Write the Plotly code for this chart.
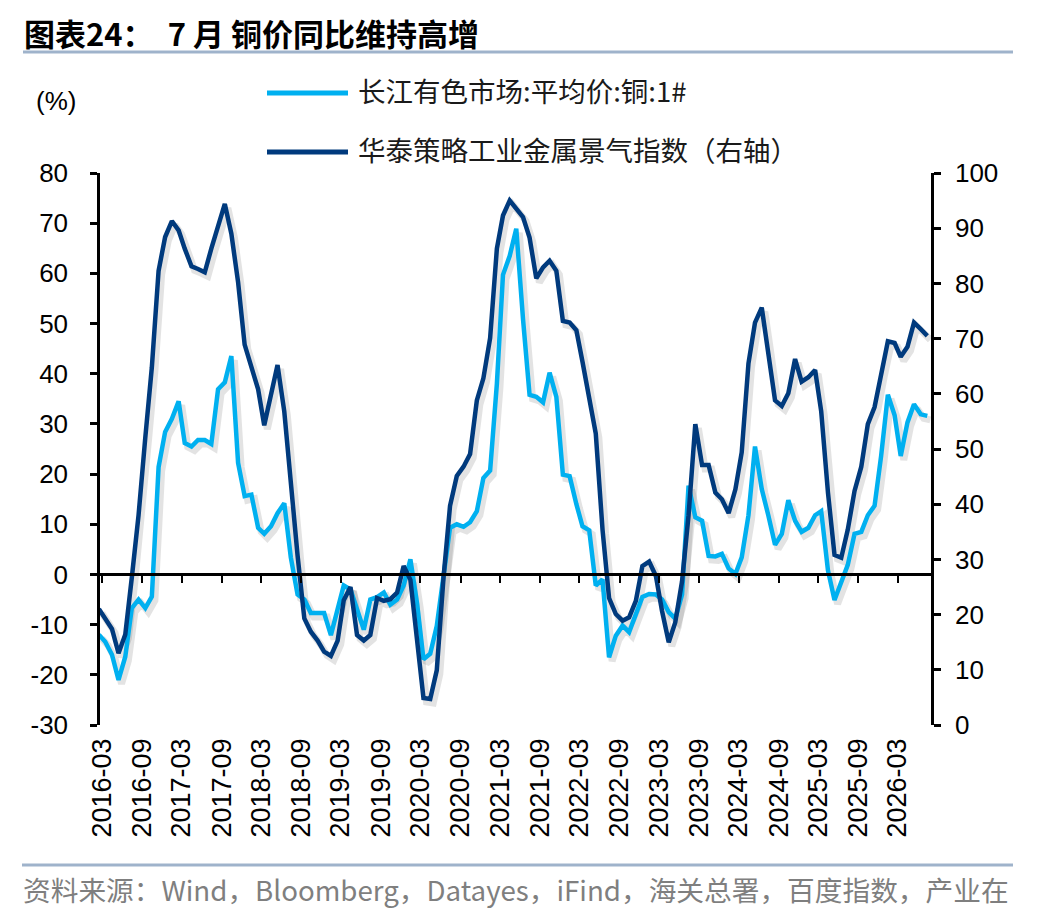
import pandas as pd
import plotly.graph_objects as go

# monthly points, plotted mid-month (2016-02 .. 2026-07)
months = pd.date_range("2016-02-01", "2026-07-01", freq="MS") + pd.Timedelta(days=14)

# 长江有色市场:平均价:铜:1#  (YoY, %, left axis)
copper_yoy = [
    -12.0, -13.4, -16.0, -21.0, -16.4, -6.7, -5.0, -6.7, -4.4, 21.4,
    28.4, 31.0, 34.5, 26.2, 25.5, 26.8, 26.8, 26.0, 36.9, 38.3,
    43.5, 22.2, 15.6, 15.9, 9.3, 8.1, 9.6, 12.2, 14.2, 3.4,
    -4.0, -5.0, -7.7, -7.7, -7.7, -12.1, -7.0, -2.2, -3.0, -7.0,
    -11.0, -5.0, -4.5, -3.6, -6.0, -5.0, -2.2, 3.0, -5.9, -16.9,
    -15.8, -10.3, 0.0, 9.3, 10.0, 9.5, 10.4, 12.6, 19.2, 20.7,
    38.0, 59.7, 63.5, 68.9, 50.9, 35.8, 35.4, 34.3, 40.2, 35.4,
    19.9, 19.6, 14.0, 9.6, 8.8, -2.2, -1.0, -16.5, -12.2, -10.2,
    -11.5, -7.9, -4.5, -3.9, -4.0, -5.0, -7.5, -8.8, -4.0, 17.7,
    11.4, 10.7, 3.7, 3.6, 4.1, 1.2, 0.1, 3.4, 11.8, 25.5,
    17.0, 11.8, 5.9, 8.1, 14.8, 10.7, 8.5, 9.3, 11.8, 12.6,
    0.8, -5.1, -1.4, 1.9, 8.1, 8.5, 11.8, 13.7, 23.6, 35.8,
    31.7, 23.6, 30.3, 33.9, 31.9, 31.6,
]

# 华泰策略工业金属景气指数 (right axis)
metal_index = [
    21.0, 19.3, 17.4, 13.0, 16.4, 26.7, 38.0, 52.1, 64.8, 82.3,
    88.4, 91.3, 89.6, 86.3, 83.1, 82.6, 82.0, 86.3, 90.3, 94.4,
    89.0, 80.2, 68.9, 64.8, 60.8, 54.3, 59.5, 65.2, 56.8, 43.4,
    30.7, 19.3, 16.9, 15.3, 13.3, 12.5, 15.3, 22.6, 25.0, 16.3,
    15.3, 16.3, 23.0, 22.5, 22.8, 24.0, 28.8, 26.3, 15.9, 4.9,
    4.7, 9.9, 26.7, 39.7, 45.1, 46.8, 49.1, 58.8, 62.8, 70.1,
    86.3, 92.3, 95.0, 93.6, 92.0, 88.3, 80.9, 82.9, 84.1, 82.3,
    73.2, 72.9, 71.5, 65.8, 59.5, 52.8, 35.4, 23.0, 20.1, 18.9,
    19.5, 22.5, 28.8, 29.6, 27.0, 20.7, 15.0, 18.6, 26.0, 38.0,
    54.5, 47.1, 47.1, 42.1, 40.9, 38.4, 42.7, 49.4, 65.5, 72.9,
    75.6, 67.5, 58.8, 57.8, 60.1, 66.3, 62.2, 63.0, 64.3, 56.8,
    42.1, 30.8, 30.3, 35.4, 42.4, 46.8, 54.5, 57.6, 63.8, 69.5,
    69.2, 66.7, 68.5, 72.9, 71.7, 70.5,
]

tick_labels = [
    "2016-03", "2016-09", "2017-03", "2017-09", "2018-03", "2018-09",
    "2019-03", "2019-09", "2020-03", "2020-09", "2021-03", "2021-09",
    "2022-03", "2022-09", "2023-03", "2023-09", "2024-03", "2024-09",
    "2025-03", "2025-09", "2026-03",
]
left_ticks = [80, 70, 60, 50, 40, 30, 20, 10, 0, -10, -20, -30]
right_ticks = [100, 90, 80, 70, 60, 50, 40, 30, 20, 10, 0]

names = ["长江有色市场:平均价:铜:1#", "华泰策略工业金属景气指数（右轴）"]
title = "图表24：  7 月 铜价同比维持高增"
source = "资料来源：Wind，Bloomberg，Datayes，iFind，海关总署，百度指数，产业在"

light_blue = "#00B0F0"
navy = "#003A7D"
rule_color = "#9FB3CB"
shadow = "rgba(0,0,0,0.11)"
num_font = "Liberation Sans, Arial"
cjk_font = "Noto Sans CJK SC"

tick_dates = pd.to_datetime([t + "-01" for t in tick_labels])
x_range = [pd.Timestamp("2016-02-20"), pd.Timestamp("2026-08-01")]
left_range = [-30, 80]
right_range = [0, 100]

# page body has an 8px margin, so everything is laid out 8px up/left
OFF = 8
fig_w, fig_h = 1048 - 2 * OFF, 916 - 2 * OFF
# plot area in (reference) pixels
L, T, W, H = 100, 173, 831, 552


def px_x(x):
    return (x - L) / W


def px_y(y):
    return (T + H - y) / H


# drop-shadow offset (a few pixels right / down)
dx = pd.Timedelta(days=14)
dy_left = 0.8
dy_right = 0.72

fig = go.Figure()

# shadows (base subplot -> drawn underneath)
fig.add_trace(go.Scatter(x=months, y=copper_yoy, mode="lines", xaxis="x", yaxis="y",
                         line=dict(color=shadow, width=7), hoverinfo="skip", showlegend=False))
fig.add_trace(go.Scatter(x=months, y=metal_index, mode="lines", xaxis="x", yaxis="y2",
                         line=dict(color=shadow, width=7), hoverinfo="skip", showlegend=False))
# real series
fig.add_trace(go.Scatter(x=months, y=copper_yoy, mode="lines", name=names[0], xaxis="x2", yaxis="y3",
                         line=dict(color=light_blue, width=4.5), showlegend=False))
fig.add_trace(go.Scatter(x=months, y=metal_index, mode="lines", name=names[1], xaxis="x3", yaxis="y4",
                         line=dict(color=navy, width=4.5), showlegend=False))

hidden = dict(visible=False, showgrid=False, zeroline=False)

fig.update_layout(
    width=fig_w, height=fig_h,
    margin=dict(l=L - OFF, r=fig_w - (L - OFF) - W, t=T - OFF, b=fig_h - (T - OFF) - H),
    paper_bgcolor="white", plot_bgcolor="white",
    showlegend=False,
    # shadow axes, shifted slightly
    xaxis=dict(type="date", range=[x_range[0] - dx, x_range[1] - dx], **hidden),
    yaxis=dict(range=[left_range[0] + dy_left, left_range[1] + dy_left], **hidden),
    yaxis2=dict(range=[right_range[0] + dy_right, right_range[1] + dy_right], overlaying="y", **hidden),
    # bottom axis carrying the rotated date labels
    xaxis2=dict(type="date", range=x_range, overlaying="x", anchor="y3", side="bottom",
                tickvals=tick_dates, ticktext=tick_labels, tickangle=-90,
                ticks="", showline=False, showgrid=False, zeroline=False,
                tickfont=dict(family=num_font, size=27, color="black"),
                ticklabelstandoff=7),
    # zero-line axis with tick marks
    xaxis3=dict(type="date", range=x_range, overlaying="x", anchor="free",
                position=(0 - left_range[0]) / (left_range[1] - left_range[0]),
                tickvals=tick_dates, showticklabels=False, ticks="outside",
                ticklen=7, tickwidth=2, tickcolor="black",
                showline=True, linecolor="black", linewidth=2.5,
                showgrid=False, zeroline=False),
    yaxis3=dict(range=left_range, overlaying="y", anchor="x2", side="left",
                tickvals=left_ticks, ticktext=[str(v) for v in left_ticks],
                ticks="outside", ticklen=7, tickwidth=2.5, tickcolor="black",
                showline=True, linecolor="black", linewidth=2.5,
                showgrid=False, zeroline=False,
                tickfont=dict(family=num_font, size=26, color="black"),
                ticklabelstandoff=17),
    yaxis4=dict(range=right_range, overlaying="y", anchor="x2", side="right",
                tickvals=right_ticks, ticktext=[str(v) for v in right_ticks],
                ticks="outside", ticklen=7, tickwidth=2.5, tickcolor="black",
                showline=True, linecolor="black", linewidth=2.5,
                showgrid=False, zeroline=False,
                tickfont=dict(family=num_font, size=26, color="black"),
                ticklabelstandoff=9),
)

shapes = [
    # rule under the title and above the source
    dict(type="line", xref="paper", yref="paper", x0=px_x(23), x1=px_x(1013),
         y0=px_y(52), y1=px_y(52), line=dict(color=rule_color, width=3)),
    dict(type="line", xref="paper", yref="paper", x0=px_x(22), x1=px_x(1013),
         y0=px_y(865), y1=px_y(865), line=dict(color=rule_color, width=3)),
    # legend swatches
    dict(type="line", xref="paper", yref="paper", x0=px_x(267), x1=px_x(348),
         y0=px_y(93), y1=px_y(93), line=dict(color=light_blue, width=5)),
    dict(type="line", xref="paper", yref="paper", x0=px_x(267), x1=px_x(348),
         y0=px_y(152), y1=px_y(152), line=dict(color=navy, width=5)),
]
fig.update_layout(shapes=shapes)

annotations = [
    dict(text="<b>" + title + "</b>", x=px_x(22), y=px_y(32), xanchor="left", yanchor="middle",
         font=dict(family=cjk_font, size=31, color="black")),
    dict(text=names[0], x=px_x(356), y=px_y(90), xanchor="left", yanchor="middle",
         font=dict(family=cjk_font, size=27.5, color="#1a1a1a")),
    dict(text=names[1], x=px_x(356), y=px_y(149), xanchor="left", yanchor="middle",
         font=dict(family=cjk_font, size=27.5, color="#1a1a1a")),
    dict(text="(%)", x=px_x(56), y=px_y(101), xanchor="center", yanchor="middle",
         font=dict(family=num_font, size=26, color="black")),
    dict(text=source, x=px_x(21), y=px_y(889), xanchor="left", yanchor="middle",
         font=dict(family=cjk_font, size=27.7, color="#7F7F7F")),
]
for a in annotations:
    a.update(xref="paper", yref="paper", showarrow=False)
fig.update_layout(annotations=annotations)

fig.write_html("out.html")
